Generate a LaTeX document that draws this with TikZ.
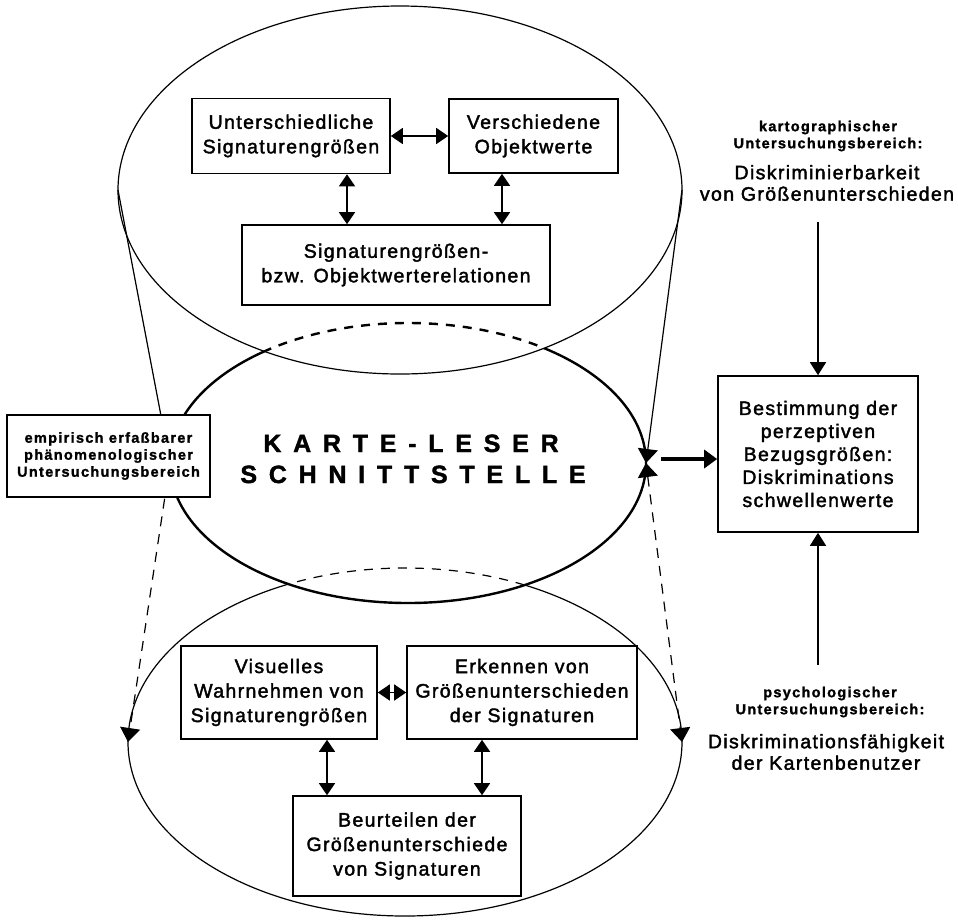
\documentclass[tikz,border=0pt]{standalone}
\usepackage{fontspec}
\setmainfont{Liberation Sans}
\usetikzlibrary{arrows.meta}
\newfontfamily\boxfam{Liberation Sans}[LetterSpace=7,FakeBold=2]
\newfontfamily\labfam{Liberation Sans}[LetterSpace=9,FakeBold=1.5]
\newfontfamily\headfam{Liberation Sans}[LetterSpace=47,FakeBold=1.5]
\newcommand\boxtext{\boxfam\fontsize{19.5}{24.5}\selectfont}
\newcommand\bigtext{\boxfam\fontsize{19.5}{21.5}\selectfont}
\newcommand\smalllabel{\labfam\bfseries\fontsize{14.5}{17}\selectfont}
\newcommand\headtext{\headfam\bfseries\fontsize{25}{31}\selectfont}

\begin{document}
\begin{tikzpicture}[x=1pt,y=-1pt,
  thinline/.style={line width=1.2pt},
  midline/.style={line width=2.4pt},
  hidden/.style={dash pattern=on 9pt off 8pt},
  sidedash/.style={dash pattern=on 10pt off 8pt},
  endtip/.style={-{Triangle[length=14pt,width=20pt]}},
  bothtips/.style={{Triangle[length=14pt,width=20pt]}-{Triangle[length=14pt,width=20pt]}},
  box/.style={draw, line width=1.6pt, fill=white, align=center, inner sep=0pt, font=\boxtext},
  dbl/.style={line width=1.4pt, {Triangle[length=12pt,width=16pt]}-{Triangle[length=12pt,width=16pt]}},
  onearrow/.style={line width=1.5pt, -{Triangle[length=13pt,width=16pt]}},
  plain/.style={align=center, inner sep=0pt}]

\useasboundingbox (0,0) rectangle (958,922);
\fill[white] (0,0) rectangle (958,922);

% centres and side points of the three ellipses
\coordinate (T) at (400,190);
\coordinate (M) at (408,463);
\coordinate (B) at (405,742);
\coordinate (Tw) at (118,190);
\coordinate (Te) at (682,190);
\coordinate (Mw) at (170,463);
\coordinate (Me) at (646,463);
\coordinate (Bw) at (128,742);
\coordinate (Be) at (682,742);

% upper ellipse
\draw[thinline] (T) ellipse [x radius=282pt, y radius=184pt];

% middle ellipse: hidden part dashed, visible part solid
\begin{scope}
  \clip (T) ellipse [x radius=282pt, y radius=184pt];
  \draw[midline, hidden] (M) ellipse [x radius=238pt, y radius=140pt];
\end{scope}
\begin{scope}[even odd rule]
  \clip (-20,-20) rectangle (980,940) (T) ellipse [x radius=282pt, y radius=184pt];
  \draw[midline] (M) ellipse [x radius=238pt, y radius=140pt];
\end{scope}

% lower ellipse: hidden part dashed, visible part solid
\begin{scope}
  \clip (M) ellipse [x radius=238pt, y radius=140pt];
  \draw[thinline, hidden] (B) ellipse [x radius=277pt, y radius=174pt];
\end{scope}
\begin{scope}[even odd rule]
  \clip (-20,-20) rectangle (980,940) (M) ellipse [x radius=238pt, y radius=140pt];
  \draw[thinline] (B) ellipse [x radius=277pt, y radius=174pt];
\end{scope}

% side lines between the ellipses
\draw[thinline] (Tw) -- (Mw);
\draw[thinline, endtip] (Te) -- (Me);
\draw[thinline, sidedash, endtip] (Mw) -- (Bw);
\draw[thinline, sidedash, bothtips] (Me) -- (Be);

% upper group of boxes
\node[box, minimum width=198pt, minimum height=75pt] (A) at (291,136)
  {Unterschiedliche\\Signaturengrößen};
\node[box, minimum width=169pt, minimum height=74pt] (Bx) at (533.5,136)
  {Verschiedene\\Objektwerte};
\node[box, minimum width=308pt, minimum height=80pt] (C) at (396,265)
  {Signaturengrößen-\\bzw. Objektwerterelationen};
\draw[dbl] (A.east) -- (Bx.west);
\draw[dbl] ([xshift=56pt]A.south) -- ([xshift=56pt]A.south |- C.north);
\draw[dbl] ([xshift=-31.5pt]Bx.south) -- ([xshift=-31.5pt]Bx.south |- C.north);

% lower group of boxes
\node[box, minimum width=196pt, minimum height=93pt] (D) at (279,692.5)
  {Visuelles\\Wahrnehmen von\\Signaturengrößen};
\node[box, minimum width=230pt, minimum height=93pt] (E) at (522,692.5)
  {Erkennen von\\Größenunterschieden\\der Signaturen};
\node[box, minimum width=228pt, minimum height=100pt] (F) at (407,846)
  {Beurteilen der\\Größenunterschiede\\von Signaturen};
\draw[dbl] (D.east) -- (E.west);
\draw[dbl] ([xshift=48pt]D.south) -- ([xshift=48pt]D.south |- F.north);
\draw[dbl] ([xshift=-40pt]E.south) -- ([xshift=-40pt]E.south |- F.north);

% interface title
\node[anchor=base, inner sep=0pt, font=\headtext] (k1) at (411,452) {KARTE-LESER};
\node[anchor=base, inner sep=0pt, font=\headtext] (k2) at (413,483) {SCHNITTSTELLE};

% left label box
\node[box, font=\smalllabel, minimum width=203pt, minimum height=82pt] (G) at (108.5,456)
  {empirisch erfaßbarer\\phänomenologischer\\Untersuchungsbereich};

% right box and its inputs
\node[box, minimum width=200pt, minimum height=156pt, font=\boxfam\fontsize{19.5}{23}\selectfont] (H) at (818,454)
  {Bestimmung der\\perzeptiven\\Bezugsgrößen:\\Diskriminations\\schwellenwerte};

\coordinate (ka) at (661,459);
\draw[line width=4.5pt, -{Triangle[length=13pt,width=18pt]}] (ka) -- (ka -| H.west);

\node[plain, font=\smalllabel] (kart) at (828,136) {kartographischer\\Untersuchungsbereich:};
\node[plain, font=\bigtext] (diskr) at (827,183) {Diskriminierbarkeit\\von Größenunterschieden};
\coordinate (kt) at (818,222);
\draw[onearrow] (kt) -- (kt |- H.north);

\node[plain, font=\smalllabel] (psy) at (830,702) {psychologischer\\Untersuchungsbereich:};
\node[plain, font=\bigtext] (nutz) at (826,752) {Diskriminationsfähigkeit\\der Kartenbenutzer};
\coordinate (pt) at (818,665);
\draw[onearrow] (pt) -- (pt |- H.south);

\end{tikzpicture}
\end{document}
